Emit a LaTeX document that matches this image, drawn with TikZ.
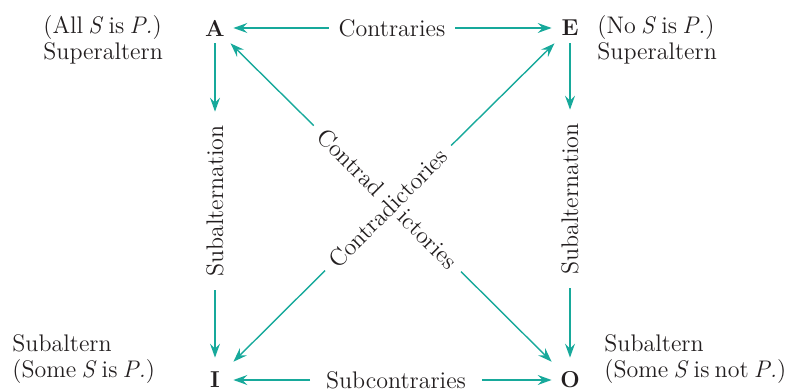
\documentclass[tikz,border=0pt]{standalone}
\usepackage{tikz}
\usetikzlibrary{arrows.meta}
\definecolor{SqTeal}{HTML}{17A99B}
\definecolor{SqInk}{HTML}{231F20}
\newcommand\tightwords{\spaceskip=2.6pt plus 1pt minus 1pt\relax}

\begin{document}
\begin{tikzpicture}[
  x=0.5pt,y=-0.5pt,
  font=\fontsize{12}{13}\selectfont\tightwords,
  text=SqInk,
  term/.style={font=\fontsize{11.5}{13}\selectfont\bfseries,inner sep=0pt,
               minimum width=18pt,minimum height=15pt},
  termlo/.style={term,minimum height=22pt},
  note/.style={align=left,inner sep=0pt,anchor=north west},
  rel/.style={inner sep=1pt,outer sep=4pt},
  ar/.style={-{Stealth[length=7pt,width=5pt,inset=2.5pt]},draw=SqTeal,
             line width=0.7pt},
]
\useasboundingbox (0,0) rectangle (786,390);

% the four corners
\node[term] (A) at (215,28) {A};
\node[term] (E) at (570,28) {E};
\node[termlo] (I) at (215,380) {I};
\node[termlo] (O) at (570,380) {O};

\node[note] (nA) at (43,15) {(All \textit{S} is \textit{P.})\\Superaltern};
\node[note] (nE) at (597,15) {(No \textit{S} is \textit{P.})\\Superaltern};
\node[note] (nI) at (12,334) {Subaltern\\(Some \textit{S} is \textit{P.})};
\node[note] (nO) at (604,334) {Subaltern\\(Some \textit{S} is not \textit{P.})};

% relations
\node[rel] (ct) at (392,28) {Contraries};
\node[rel,outer sep=7pt] (sc) at (396,380) {Subcontraries};
\node[rel,rotate=90,outer sep=5.8pt] (saL) at (215,201) {Subalternation};
\node[rel,rotate=90,outer sep=5.8pt] (saR) at (570,199) {Subalternation};
\node[rel,rotate=-45] (cdA) at (387.5,198.5) {Contrad\hspace{15pt}ictories};
\node[rel,rotate=45] (cdE) at (388,208) {Contradictories};

\draw[ar] (ct) -- (A); \draw[ar] (ct) -- (E);
\draw[ar] (sc) -- (I); \draw[ar] (sc) -- (O);
\draw[ar] (A) -- (saL); \draw[ar] (saL) -- (I);
\draw[ar] (E) -- (saR); \draw[ar] (saR) -- (O);
\draw[ar] (cdA) -- (A); \draw[ar] (cdA) -- (O);
\draw[ar] (cdE) -- (E); \draw[ar] (cdE) -- (I);
\end{tikzpicture}
\end{document}
